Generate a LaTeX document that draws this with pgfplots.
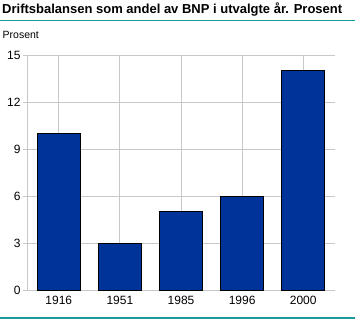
\documentclass[border=0pt]{standalone}
\usepackage{pgfplots}
\pgfplotsset{compat=1.18}
\usepackage{fontspec}
\setmainfont{Liberation Sans}
\definecolor{barblue}{HTML}{003399}
\definecolor{teal2}{HTML}{1A9A9A}
\definecolor{gridgray}{HTML}{C8C8C8}
\begin{document}
\begin{tikzpicture}
\useasboundingbox (0pt,0pt) rectangle (355pt,-319pt);
\node[anchor=west,inner sep=0pt] at (2pt,-10pt) {\fontsize{13}{15}\selectfont\bfseries Driftsbalansen som andel av BNP i utvalgte år. Prosent};
\draw[teal2,line width=1.3pt] (0pt,-20.5pt) -- (355pt,-20.5pt);
\draw[teal2,line width=1.3pt] (0pt,-318pt) -- (355pt,-318pt);
\node[anchor=west,inner sep=0pt] at (2.5pt,-35pt) {\fontsize{10.5}{12}\selectfont Prosent};
\begin{axis}[
  at={(27pt,-290pt)}, anchor=south west,
  scale only axis, width=308pt, height=235pt,
  xmin=-0.52, xmax=4.52, ymin=0, ymax=15,
  ytick={0,3,6,9,12,15},
  xtick={0,1,2,3,4},
  xticklabels={1916,1951,1985,1996,2000},
  grid=major,
  major grid style={gridgray, line width=0.8pt},
  axis x line*=bottom, axis y line*=left,
  axis line style={gridgray, line width=0.8pt},
  tick style={gridgray, line width=0.8pt},
  major tick length=4pt,
  tick align=outside,
  xtick style={draw=none},
  tick label style={font=\fontsize{12}{14}\selectfont},
  /pgf/number format/assume math mode=true,
  yticklabel style={xshift=1pt},
  xticklabel style={yshift=1pt},
  separate axis lines,
]
\addplot[ybar, bar width=43pt, fill=barblue, draw=black, line width=0.8pt] coordinates {(0,10) (1,3) (2,5) (3,6) (4,14)};
\end{axis}
\end{tikzpicture}
\end{document}
